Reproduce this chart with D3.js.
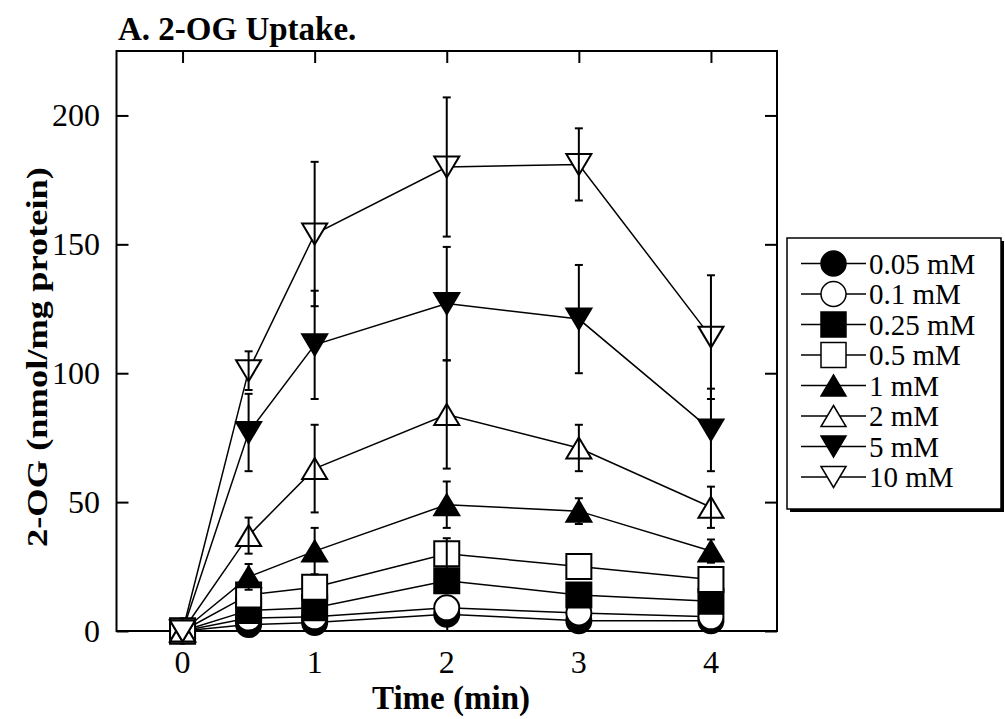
<!DOCTYPE html>
<html>
<head>
<meta charset="utf-8">
<script src="https://cdn.jsdelivr.net/npm/d3@7"></script>
<style>
  body { margin: 0; background: #fff; }
  text { font-family: "Liberation Serif", "Times New Roman", serif; fill: #000; }
</style>
</head>
<body>
<script>
// time points (min)
var times = [0, 0.5, 1, 2, 3, 4];

// concentrations, series labels
var labels = ["0.05 mM", "0.1 mM", "0.25 mM", "0.5 mM", "1 mM", "2 mM", "5 mM", "10 mM"];

// 2-OG uptake, nmol/mg protein
var v005 = [0, 2.5, 3.3, 6.5, 4, 4];
var v01  = [0, 5, 5.5, 9, 7, 5.5];
var v025 = [0, 8, 9, 19.5, 14, 11.5];
var v05  = [0, 14, 17, 30, 25, 20];
var v1   = [0, 21, 31, 49, 46.5, 31];
var v2   = [0, 37, 63, 84, 71, 48];
var v5   = [0, 77, 111, 127, 121, 78];
var v10  = [0, 101, 154, 180, 181, 114];

// error bars (+/-)
var e005 = [0, 0, 0, 0, 0, 0];
var e01  = [0, 0, 0, 0, 0, 0];
var e025 = [0, 0, 0, 0, 0, 0];
var e05  = [0, 0, 0, 6, 0, 0];
var e1   = [0, 5, 9, 9, 5, 4.5];
var e2   = [0, 7, 17, 21, 9, 8];
var e5   = [0, 15, 21, 22, 21, 16];
var e10  = [0, 7.5, 28, 27, 14, 24];

var xTicks = [0, 1, 2, 3, 4];
var yTicks = [0, 50, 100, 150, 200];

var values = [v005, v01, v025, v05, v1, v2, v5, v10];
var errors = [e005, e01, e025, e05, e1, e2, e5, e10];
var shapes = ["circle", "circle", "square", "square", "up", "up", "down", "down"];
var filled = [true, false, true, false, true, false, true, false];

var series = labels.map(function (l, i) {
  return {
    label: l, shape: shapes[i], filled: filled[i],
    points: times.map(function (t, j) { return { t: t, v: values[i][j], e: errors[i][j] }; })
  };
});

var W = 1005, H = 719;
var svg = d3.select("body").append("svg").attr("width", W).attr("height", H);

var x = d3.scaleLinear().domain([-0.5, 4.5]).range([116.5, 777]);
var y = d3.scaleLinear().domain([0, 225]).range([631, 51]);

function markerPath(shape) {
  var w = 25, h = 21;
  if (shape === "circle") return d3.symbol().type(d3.symbolCircle).size(Math.PI * 12.5 * 12.5)();
  if (shape === "square") return d3.symbol().type(d3.symbolSquare).size(25 * 25)();
  if (shape === "up") return "M0," + (-h / 2) + "L" + (w / 2) + "," + (h / 2) + "L" + (-w / 2) + "," + (h / 2) + "Z";
  return "M0," + (h / 2) + "L" + (w / 2) + "," + (-h / 2) + "L" + (-w / 2) + "," + (-h / 2) + "Z";
}

// title
svg.append("text").attr("x", 118).attr("y", 40)
  .style("font-size", "33px").style("font-weight", "bold")
  .text("A. 2-OG Uptake.");

// frame
svg.append("rect")
  .attr("x", x.range()[0]).attr("y", y.range()[1])
  .attr("width", x.range()[1] - x.range()[0]).attr("height", y.range()[0] - y.range()[1])
  .attr("fill", "none").attr("stroke", "#000").attr("stroke-width", 2);

// inward ticks on all sides
var tk = 12;
var axes = svg.append("g");
axes.append("g").attr("transform", "translate(" + x.range()[0] + ",0)")
  .call(d3.axisRight(y).tickValues(yTicks).tickSize(tk).tickFormat(""));
axes.append("g").attr("transform", "translate(" + x.range()[1] + ",0)")
  .call(d3.axisLeft(y).tickValues(yTicks).tickSize(tk).tickFormat(""));
axes.append("g").attr("transform", "translate(0," + y.range()[1] + ")")
  .call(d3.axisBottom(x).tickValues(xTicks).tickSize(tk).tickFormat(""));
axes.append("g").attr("transform", "translate(0," + y.range()[0] + ")")
  .call(d3.axisTop(x).tickValues(xTicks).tickSize(tk).tickFormat(""));
axes.selectAll(".domain").remove();
axes.selectAll(".tick line").attr("stroke", "#000").attr("stroke-width", 2);

// tick labels
svg.append("g").selectAll("text").data(yTicks).join("text")
  .attr("x", 100).attr("y", function (d) { return y(d) + 11; })
  .attr("text-anchor", "end").style("font-size", "32px")
  .text(function (d) { return d; });
svg.append("g").selectAll("text").data(xTicks).join("text")
  .attr("x", function (d) { return x(d); }).attr("y", 673)
  .attr("text-anchor", "middle").style("font-size", "32px")
  .text(function (d) { return d; });

// axis titles
svg.append("text").attr("x", 451).attr("y", 709)
  .attr("text-anchor", "middle").style("font-size", "33px").style("font-weight", "bold")
  .text("Time (min)");
svg.append("text")
  .attr("transform", "translate(47,357) rotate(-90)")
  .attr("text-anchor", "middle").style("font-size", "30px").style("font-weight", "bold")
  .attr("textLength", 380).attr("lengthAdjust", "spacingAndGlyphs")
  .text("2-OG (nmol/mg protein)");

// series lines
var line = d3.line().x(function (d) { return x(d.t); }).y(function (d) { return y(d.v); });
svg.append("g").selectAll("path").data(series).join("path")
  .attr("d", function (s) { return line(s.points); })
  .attr("fill", "none").attr("stroke", "#000").attr("stroke-width", 1.5);

// markers, then error bars of that series
series.forEach(function (s) {
  var g = svg.append("g");
  g.selectAll("path.m").data(s.points).join("path").attr("class", "m")
    .attr("transform", function (d) { return "translate(" + x(d.t) + "," + y(d.v) + ")"; })
    .attr("d", markerPath(s.shape))
    .attr("fill", s.filled ? "#000" : "#fff")
    .attr("stroke", "#000").attr("stroke-width", 2);
  var eb = g.selectAll("g.e").data(s.points.filter(function (d) { return d.e > 0; })).join("g").attr("class", "e");
  eb.append("line")
    .attr("x1", function (d) { return x(d.t); }).attr("x2", function (d) { return x(d.t); })
    .attr("y1", function (d) { return y(d.v + d.e); }).attr("y2", function (d) { return y(d.v - d.e); });
  eb.append("line")
    .attr("x1", function (d) { return x(d.t) - 4; }).attr("x2", function (d) { return x(d.t) + 4; })
    .attr("y1", function (d) { return y(d.v + d.e); }).attr("y2", function (d) { return y(d.v + d.e); });
  eb.append("line")
    .attr("x1", function (d) { return x(d.t) - 4; }).attr("x2", function (d) { return x(d.t) + 4; })
    .attr("y1", function (d) { return y(d.v - d.e); }).attr("y2", function (d) { return y(d.v - d.e); });
  eb.selectAll("line").attr("stroke", "#000").attr("stroke-width", 2);
});

// legend
var lg = svg.append("g");
lg.append("rect").attr("x", 790).attr("y", 241).attr("width", 214).attr("height", 271).attr("fill", "#000");
lg.append("rect").attr("x", 787).attr("y", 238).attr("width", 214).attr("height", 271)
  .attr("fill", "#fff").attr("stroke", "#000").attr("stroke-width", 1.5);
var rows = lg.selectAll("g.row").data(series).join("g").attr("class", "row")
  .attr("transform", function (d, i) { return "translate(0," + (263.5 + i * 30.5) + ")"; });
rows.append("line").attr("x1", 801).attr("x2", 866).attr("y1", 0).attr("y2", 0)
  .attr("stroke", "#000").attr("stroke-width", 1.5);
rows.append("path").attr("transform", "translate(833.5,0)")
  .attr("d", function (d) { return markerPath(d.shape); })
  .attr("fill", function (d) { return d.filled ? "#000" : "#fff"; })
  .attr("stroke", "#000").attr("stroke-width", 1.5);
rows.append("text").attr("x", 869).attr("y", 10).style("font-size", "29px")
  .text(function (d) { return d.label; });
</script>
</body>
</html>
